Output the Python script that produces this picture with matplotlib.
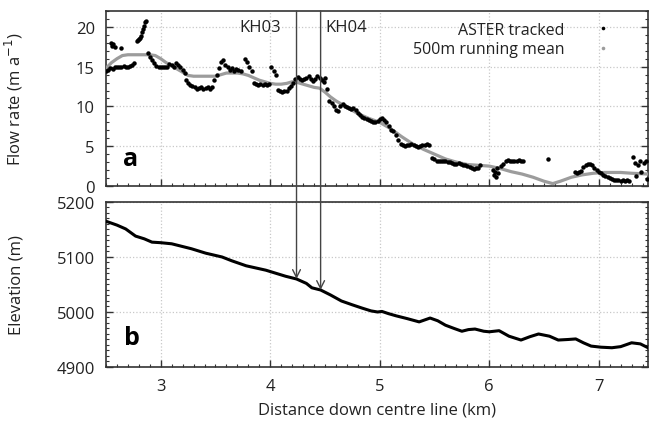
import numpy as np
import matplotlib
matplotlib.use("Agg")
import matplotlib.pyplot as plt
from matplotlib.patches import ConnectionPatch
from matplotlib.lines import Line2D
from matplotlib.ticker import MultipleLocator

plt.rcParams['font.family'] = ['Open Sans', 'DejaVu Sans']

# ASTER tracked flow rate (km, m/a)
aster_x = [2.50, 2.52, 2.54, 2.56, 2.58, 2.60, 2.62, 2.64, 2.66, 2.68, 2.70, 2.72, 2.74, 2.76,
           2.545, 2.555, 2.565, 2.58, 2.64,
           2.78, 2.79, 2.80, 2.81, 2.82, 2.83, 2.84, 2.85, 2.86, 2.87, 2.88,
           2.90, 2.92, 2.94, 2.96, 2.98, 3.00, 3.02, 3.04, 3.06, 3.08, 3.10, 3.12, 3.14, 3.16, 3.18, 3.20, 3.22,
           3.23, 3.25, 3.27, 3.29, 3.31, 3.33, 3.35, 3.37, 3.39, 3.41, 3.43, 3.45, 3.47,
           3.49, 3.51, 3.53, 3.55, 3.57, 3.59, 3.61, 3.63, 3.65, 3.67, 3.69, 3.71, 3.73,
           3.77, 3.79, 3.81, 3.83,
           3.85, 3.87, 3.89, 3.91, 3.93, 3.95, 3.97, 3.99,
           4.01, 4.03, 4.05,
           4.07, 4.09, 4.11, 4.13, 4.15, 4.17, 4.19, 4.21,
           4.23, 4.25, 4.27, 4.29, 4.31, 4.33, 4.35, 4.37, 4.39, 4.41, 4.43, 4.45, 4.47, 4.49, 4.50,
           4.52, 4.54, 4.56, 4.58, 4.60, 4.62, 4.64, 4.66, 4.68, 4.70, 4.72, 4.74, 4.76, 4.78,
           4.80, 4.82, 4.84, 4.86, 4.88, 4.90, 4.92, 4.94, 4.96, 4.98,
           5.00, 5.02, 5.04, 5.06, 5.08, 5.10, 5.12,
           5.15, 5.17, 5.19, 5.21, 5.23, 5.25, 5.27, 5.29, 5.31, 5.33, 5.35, 5.37, 5.39, 5.41, 5.43, 5.45,
           5.48, 5.50, 5.52, 5.54, 5.56, 5.58, 5.60, 5.62, 5.64, 5.66, 5.68, 5.70, 5.72, 5.74, 5.76,
           5.78, 5.80, 5.82, 5.84, 5.86, 5.88, 5.90, 5.92,
           6.03, 6.04, 6.05, 6.06, 6.07, 6.08,
           6.11, 6.13, 6.15, 6.17, 6.19, 6.21, 6.23, 6.25, 6.27, 6.29, 6.31,
           6.54,
           6.78, 6.80, 6.82, 6.84, 6.86, 6.88, 6.90, 6.92, 6.94, 6.96, 6.98, 7.00, 7.02, 7.04, 7.06, 7.08,
           7.10, 7.12, 7.14, 7.16, 7.18, 7.20, 7.22, 7.24, 7.26, 7.28,
           7.31, 7.33, 7.34, 7.36, 7.38, 7.39, 7.41, 7.43, 7.44]
aster_v = [14.5, 14.6, 14.8, 14.7, 14.9, 15.0, 14.9, 15.0, 15.1, 15.0, 15.0, 15.1, 15.2, 15.4,
           18.0, 17.6, 17.8, 17.5, 17.4,
           18.2, 18.3, 18.5, 18.6, 18.8, 19.3, 19.7, 20.1, 20.6, 20.8, 16.7,
           16.2, 15.8, 15.4, 15.1, 15.0, 15.0, 15.0, 14.9, 15.0, 15.3, 15.2, 15.0, 15.5, 15.2, 15.0, 14.6, 14.2,
           13.3, 12.9, 12.7, 12.6, 12.4, 12.2, 12.3, 12.5, 12.2, 12.3, 12.5, 12.2, 12.5,
           13.3, 14.0, 14.8, 15.6, 15.9, 15.2, 14.9, 14.6, 14.8, 14.5, 14.7, 14.6, 14.4,
           16.0, 15.6, 15.0, 14.5,
           13.0, 12.8, 12.7, 12.8, 12.7, 12.8, 12.7, 12.8,
           15.0, 14.5, 13.9,
           12.1, 11.9, 11.8, 11.9, 12.0, 12.3, 12.6, 13.0,
           13.5, 13.7, 13.5, 13.3, 13.5, 13.6, 13.8, 13.4, 13.2, 13.5, 13.8, 13.6, 13.3, 13.1, 13.6,
           12.2, 10.7, 10.4, 10.0, 9.6, 9.4, 10.0, 10.3, 10.1, 9.9, 9.8, 9.7, 9.8, 9.5,
           9.2, 8.9, 8.7, 8.6, 8.4, 8.3, 8.2, 8.1, 8.1, 8.2,
           8.4, 8.5, 8.3, 8.0, 7.6, 7.1, 6.9,
           6.4, 5.8, 5.3, 5.1, 5.0, 5.1, 5.2, 5.3, 5.2, 5.0, 4.9, 5.0, 5.1, 5.2, 5.3, 5.2,
           3.5, 3.4, 3.2, 3.1, 3.2, 3.2, 3.1, 3.0, 3.0, 2.9, 2.8, 2.8, 2.9, 2.8, 2.7,
           2.6, 2.5, 2.4, 2.2, 2.1, 2.2, 2.3, 2.6,
           2.0, 1.4, 1.8, 1.1, 2.3, 1.6,
           2.5, 2.8, 3.1, 3.3, 3.2, 3.2, 3.1, 3.2, 3.3, 3.2, 3.2,
           3.4,
           1.8, 1.6, 1.7, 1.9, 2.4, 2.7, 2.8, 2.8, 2.6, 2.3, 2.0, 1.8, 1.6, 1.4, 1.2, 1.1,
           1.0, 0.9, 0.8, 0.7, 0.7, 0.6, 0.7, 0.6, 0.7, 0.6,
           3.6, 2.9, 1.2, 2.6, 3.2, 1.8, 2.9, 3.1, 0.9]

# 500 m running mean
mean_x = [2.50, 2.55, 2.60, 2.65, 2.70, 2.80, 2.90, 2.95, 3.00, 3.05, 3.10, 3.15, 3.20, 3.25, 3.30,
          3.40, 3.50, 3.55, 3.60, 3.70, 3.75, 3.80, 3.85, 3.90, 3.95, 4.00, 4.05, 4.10, 4.15, 4.20,
          4.25, 4.30, 4.35, 4.40, 4.45, 4.50, 4.55, 4.60, 4.70, 4.80, 4.90, 5.00, 5.10, 5.20, 5.30,
          5.40, 5.50, 5.60, 5.70, 5.80, 5.90, 6.00, 6.10, 6.20, 6.30, 6.40, 6.50, 6.58, 6.65, 6.75,
          6.85, 6.95, 7.05, 7.20, 7.30, 7.45]
mean_v = [14.8, 15.5, 16.0, 16.4, 16.5, 16.5, 16.5, 16.4, 16.0, 15.5, 15.1, 14.7, 14.3, 13.9, 13.8,
          13.8, 13.8, 14.0, 14.2, 14.2, 14.1, 13.9, 13.6, 13.3, 13.1, 12.9, 12.8, 12.8, 12.9, 13.1,
          13.0, 12.8, 12.6, 12.4, 12.3, 11.8, 11.2, 10.7, 9.9, 9.1, 8.5, 8.0, 7.2, 6.2, 5.3,
          4.6, 4.0, 3.4, 3.0, 2.7, 2.6, 2.5, 2.2, 1.8, 1.5, 1.1, 0.6, 0.3, 0.6, 1.1,
          1.4, 1.6, 1.7, 1.7, 1.6, 1.5]

# Elevation along centre line
elev_x = [2.50, 2.60, 2.68, 2.77, 2.85, 2.92, 3.00, 3.10, 3.20, 3.28, 3.41, 3.56, 3.65, 3.78, 3.96,
          4.14, 4.24, 4.33, 4.38, 4.46, 4.55, 4.65, 4.75, 4.84, 4.92, 4.98, 5.02, 5.08, 5.15, 5.25,
          5.36, 5.46, 5.53, 5.60, 5.68, 5.75, 5.81, 5.87, 5.95, 6.00, 6.09, 6.18, 6.29, 6.37, 6.45,
          6.55, 6.63, 6.72, 6.79, 6.86, 6.93, 7.02, 7.12, 7.20, 7.30, 7.38, 7.45]
elev_y = [5165, 5158, 5151, 5138, 5133, 5127, 5126, 5124, 5119, 5115, 5107, 5100, 5093, 5084, 5076,
          5065, 5060, 5052, 5044, 5040, 5031, 5020, 5013, 5007, 5002, 5000, 5001, 4997, 4993, 4988,
          4982, 4989, 4984, 4976, 4970, 4965, 4968, 4969, 4965, 4964, 4966, 4956, 4949, 4955, 4960,
          4956, 4949, 4950, 4951, 4944, 4938, 4936, 4935, 4937, 4944, 4942, 4935]

kh_labels = ["KH03", "KH04"]
kh_x = [4.24, 4.46]

legend_labels = ["ASTER tracked", "500m running mean"]
legend_colors = ["black", "#9c9c9c"]

fig = plt.figure(figsize=(6.49, 4.27), dpi=100)
ax1 = fig.add_axes([0.1633, 0.5621, 0.8352, 0.4098])
ax2 = fig.add_axes([0.1633, 0.1382, 0.8352, 0.3864])

edge = '#333333'
txt = '#222222'
for ax in (ax1, ax2):
    ax.set_xlim(2.5, 7.45)
    ax.xaxis.set_major_locator(MultipleLocator(1))
    ax.xaxis.set_minor_locator(MultipleLocator(0.1))
    ax.tick_params(which='both', direction='in', right=True, top=False, colors=edge,
                   labelcolor=txt, labelsize=12)
    ax.tick_params(which='major', length=5, width=1, pad=8)
    ax.tick_params(which='minor', length=2.5, width=0.8)
    ax.grid(True, which='major', linestyle=':', color='#c8c8c8', linewidth=0.9)
    for s in ax.spines.values():
        s.set_color(edge)
        s.set_linewidth(1.2)

ax1.set_ylim(0, 22)
ax1.yaxis.set_major_locator(MultipleLocator(5))
ax1.yaxis.set_minor_locator(MultipleLocator(1))
ax1.tick_params(labelbottom=False)
ax1.plot(mean_x, mean_v, color='#9c9c9c', linewidth=2.3, zorder=3)
ax1.plot(aster_x, aster_v, linestyle='none', marker='o', markersize=3.2,
         color='black', markeredgewidth=0, zorder=4)
ax1.set_ylabel('Flow rate (m a$^{-1}$)', fontsize=12, color=txt)
ax1.yaxis.set_label_coords(-0.150, 0.5)
ax1.text(2.72, 3.4, 'a', fontsize=18, fontweight='bold', ha='center', va='center')

ax2.set_ylim(4900, 5200)
ax2.yaxis.set_major_locator(MultipleLocator(100))
ax2.yaxis.set_minor_locator(MultipleLocator(10))
ax2.plot(elev_x, elev_y, color='black', linewidth=2.2, zorder=3)
ax2.set_ylabel('Elevation (m)', fontsize=12, color=txt)
ax2.yaxis.set_label_coords(-0.150, 0.5)
ax2.set_xlabel('Distance down centre line (km)', fontsize=12, color=txt, labelpad=5)
ax2.text(2.74, 4953, 'b', fontsize=18, fontweight='bold', ha='center', va='center')

# KH markers: line from top of panel a to elevation profile in panel b
for lab, kx in zip(kh_labels, kh_x):
    ke = np.interp(kx, elev_x, elev_y)
    con = ConnectionPatch(xyA=(kx, 22), coordsA=ax1.transData,
                          xyB=(kx, ke), coordsB=ax2.transData,
                          arrowstyle='->', mutation_scale=14, color='#444444', linewidth=1.0,
                          zorder=5)
    fig.add_artist(con)
ax1.text(kh_x[0] - 0.14, 20.0, kh_labels[0], ha='right', va='center', fontsize=12, color=txt)
ax1.text(kh_x[1] + 0.04, 20.0, kh_labels[1], ha='left', va='center', fontsize=12, color=txt)

# legend (text right-aligned, marker to the right)
for i, (lab, col) in enumerate(zip(legend_labels, legend_colors)):
    yy = 0.89 - i * 0.11
    ax1.text(0.845, yy, lab, transform=ax1.transAxes, ha='right', va='center',
             fontsize=11.5, color=txt)
    ax1.add_line(Line2D([0.917], [yy + 0.01], transform=ax1.transAxes, linestyle='none',
                        marker='o', markersize=2.6, color=col, markeredgewidth=0))

fig.savefig('out.png', dpi=100)
